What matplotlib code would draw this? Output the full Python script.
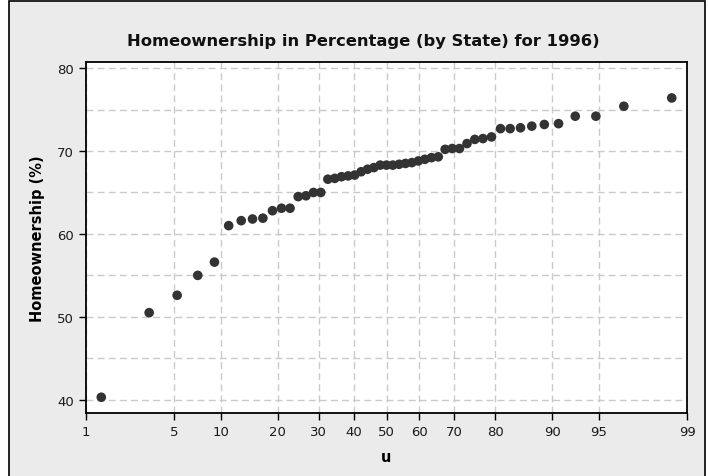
import numpy as np
import matplotlib
matplotlib.use('Agg')
import matplotlib.pyplot as plt
from matplotlib.patches import Rectangle
from statistics import NormalDist

# homeownership rate by state, 1996 (sorted, 50 states + DC)
rates = [40.3, 50.5, 52.6, 55.0, 56.6, 61.0, 61.6, 61.8, 61.9, 62.8,
         63.1, 63.1, 64.5, 64.6, 65.0, 65.0, 66.6, 66.7, 66.9, 67.0,
         67.1, 67.5, 67.8, 68.0, 68.3, 68.3, 68.3, 68.4, 68.5, 68.6,
         68.8, 69.0, 69.2, 69.3, 70.2, 70.3, 70.3, 70.9, 71.4, 71.5,
         71.7, 72.7, 72.7, 72.8, 73.0, 73.2, 73.3, 74.2, 74.2, 75.4,
         76.4]
u_ticks = [1, 5, 10, 20, 30, 40, 50, 60, 70, 80, 90, 95, 99]
y_ticks = [40, 50, 60, 70, 80]
y_grid = [40, 45, 50, 55, 60, 65, 70, 75, 80]

# median ranks for the probability axis
y = np.sort(np.array(rates))
n = len(y)
ranks = np.arange(1, n + 1)
u = (ranks - 0.3) / (n + 0.4) * 100.0

nd = NormalDist()
_fwd = np.vectorize(lambda v: nd.inv_cdf(min(max(v / 100.0, 1e-9), 1 - 1e-9)), otypes=[float])
_inv = np.vectorize(lambda z: nd.cdf(z) * 100.0, otypes=[float])

fig = plt.figure(figsize=(7.08, 4.77), dpi=100)
fig.patch.set_facecolor('white')
frame = Rectangle((9 / 708., -0.05), (705 - 9) / 708., 1.05 - 1.7 / 477.,
                  transform=fig.transFigure, facecolor='#ebebeb',
                  edgecolor='black', linewidth=1.2, zorder=-10)
fig.patches.append(frame)

ax = fig.add_axes([86 / 708., 1 - 414 / 477., (687 - 86) / 708., (414 - 63.3) / 477.])
ax.set_facecolor('white')
ax.set_xscale('function', functions=(_fwd, _inv))
ax.set_xlim(1, 99)
ax.set_ylim(38.4, 80.7)

for g in u_ticks:
    ax.axvline(g, color='#cacaca', linestyle=(0, (5, 3)), linewidth=1.0, zorder=1)
for g in y_grid:
    ax.axhline(g, color='#cacaca', linestyle=(0, (5, 3)), linewidth=1.0, zorder=1)

ax.scatter(u, y, s=48, color='#333333', edgecolors='none', zorder=3, clip_on=False)

ax.set_xticks(u_ticks)
ax.set_xticklabels([str(t) for t in u_ticks])
ax.xaxis.set_minor_locator(matplotlib.ticker.NullLocator())
ax.set_yticks(y_ticks)
ax.tick_params(axis='both', direction='out', length=5, width=1.0,
               labelsize=9.5, colors='black', labelcolor='#1a1a1a')
for sp in ax.spines.values():
    sp.set_linewidth(1.3)

ax.set_xlabel('u', fontsize=10.5, fontweight='bold', labelpad=8)
ax.set_ylabel('Homeownership (%)', fontsize=10.5, fontweight='bold', labelpad=9)

fig.text(363 / 708., 1 - 41.5 / 477., 'Homeownership in Percentage (by State) for 1996)',
         ha='center', va='center', fontsize=11.8, fontweight='bold', color='#111111')

plt.savefig('out.png', dpi=100)
